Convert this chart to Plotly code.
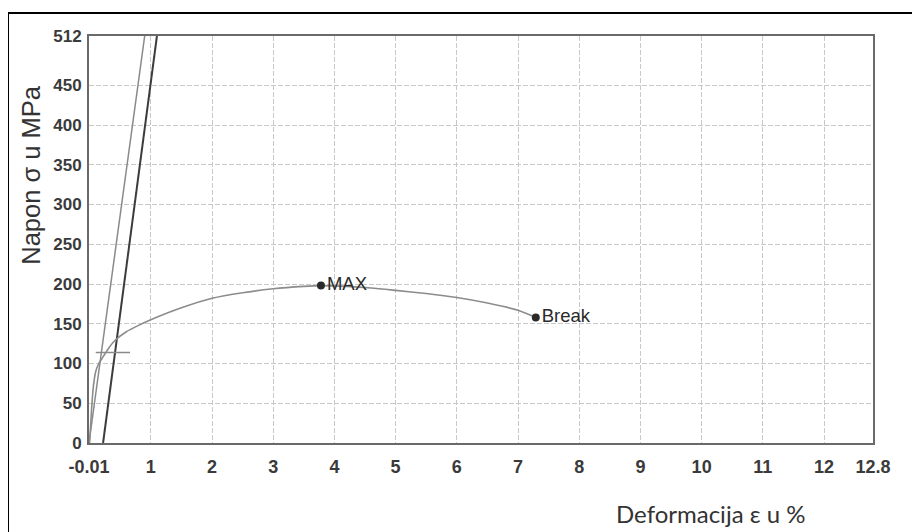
import plotly.graph_objects as go

# stress-strain curve (strain %, stress MPa)
curve_strain = [0.0, 0.03, 0.06, 0.1, 0.15, 0.2, 0.3, 0.4, 0.6, 0.8, 1.0, 1.5, 2.0, 2.5, 3.0, 3.5, 3.78, 4.2, 4.6, 5.0, 5.5, 6.0, 6.5, 7.0, 7.29]
curve_stress = [0.0, 40, 70, 90, 100, 106, 118, 128, 140, 148, 155, 170, 182, 189, 194, 197, 198, 197, 195, 192, 188, 183, 176, 167, 158]

# elastic (modulus) lines
line_a_strain = [-0.01, 0.9]
line_a_stress = [0, 512]
line_b_strain = [0.22, 1.1]
line_b_stress = [0, 512]

# horizontal marker segment
mark_strain = [0.1, 0.66]
mark_stress = [114, 114]

# labelled points
pt_names = ["MAX", "Break"]
pt_strain = [3.78, 7.29]
pt_stress = [198, 158]

x_ticks = [-0.01, 1, 2, 3, 4, 5, 6, 7, 8, 9, 10, 11, 12, 12.8]
x_ticktext = ["-0.01", "1", "2", "3", "4", "5", "6", "7", "8", "9", "10", "11", "12", "12.8"]
y_ticks = [0, 50, 100, 150, 200, 250, 300, 350, 400, 450, 512]
y_ticktext = [str(v) for v in y_ticks]

fig = go.Figure()
fig.add_trace(go.Scatter(x=line_a_strain, y=line_a_stress, mode="lines",
                         line=dict(color="#8a8a8a", width=1.5), showlegend=False, hoverinfo="skip"))
fig.add_trace(go.Scatter(x=line_b_strain, y=line_b_stress, mode="lines",
                         line=dict(color="#3c3c3c", width=2), showlegend=False, hoverinfo="skip"))
fig.add_trace(go.Scatter(x=mark_strain, y=mark_stress, mode="lines",
                         line=dict(color="#8a8a8a", width=1.5), showlegend=False, hoverinfo="skip"))
fig.add_trace(go.Scatter(x=curve_strain, y=curve_stress, mode="lines",
                         line=dict(color="#8c8c8c", width=1.6, shape="spline", smoothing=0.6),
                         showlegend=False))
fig.add_trace(go.Scatter(x=pt_strain, y=pt_stress, mode="markers+text",
                         marker=dict(color="#2a2a2a", size=8),
                         text=pt_names, textposition="middle right",
                         textfont=dict(family="Arial, Liberation Sans", size=18.5, color="#2a2a2a"),
                         showlegend=False))

x_font = dict(family="Arial, Liberation Sans", size=18, color="#3a3a3a", weight="bold")
y_font = dict(family="Arial, Liberation Sans", size=17, color="#3a3a3a", weight="bold")
grid_style = dict(showgrid=True, gridcolor="#c8c8c8", griddash="5px,2px", gridwidth=1,
                  showline=True, linecolor="#6a6a6a", linewidth=2, mirror=True, zeroline=False)
fig.update_xaxes(range=[-0.01, 12.8], tickvals=x_ticks, ticktext=x_ticktext,
                 ticks="outside", ticklen=6, tickcolor="rgba(0,0,0,0)",
                 tickfont=x_font, **grid_style)
fig.update_yaxes(range=[0, 512], tickvals=y_ticks, ticktext=y_ticktext,
                 ticks="outside", ticklen=2, tickcolor="rgba(0,0,0,0)",
                 tickfont=y_font, **grid_style)

fig.update_layout(
    width=912, height=524,
    margin=dict(l=81, r=47, t=28, b=89),
    paper_bgcolor="white", plot_bgcolor="white",
    font=dict(family="Arial, Liberation Sans"),
    shapes=[dict(type="rect", xref="paper", yref="paper",
                 x0=-0.1033, x1=1.2, y0=-0.3, y1=1.0565,
                 line=dict(color="black", width=2), layer="below")],
    annotations=[
        dict(text="Napon σ u MPa", xref="paper", yref="paper", x=-0.0735, y=0.66,
             textangle=-90, showarrow=False, xanchor="center", yanchor="middle",
             font=dict(family="Arial, Liberation Sans", size=25.5, color="#333333")),
        dict(text="Deformacija ε u %", xref="paper", yref="paper", x=0.793, y=-0.172,
             showarrow=False, xanchor="center", yanchor="middle",
             font=dict(family="Lato, Open Sans", size=24, color="#333333")),
    ],
)

fig.write_html("out.html")
